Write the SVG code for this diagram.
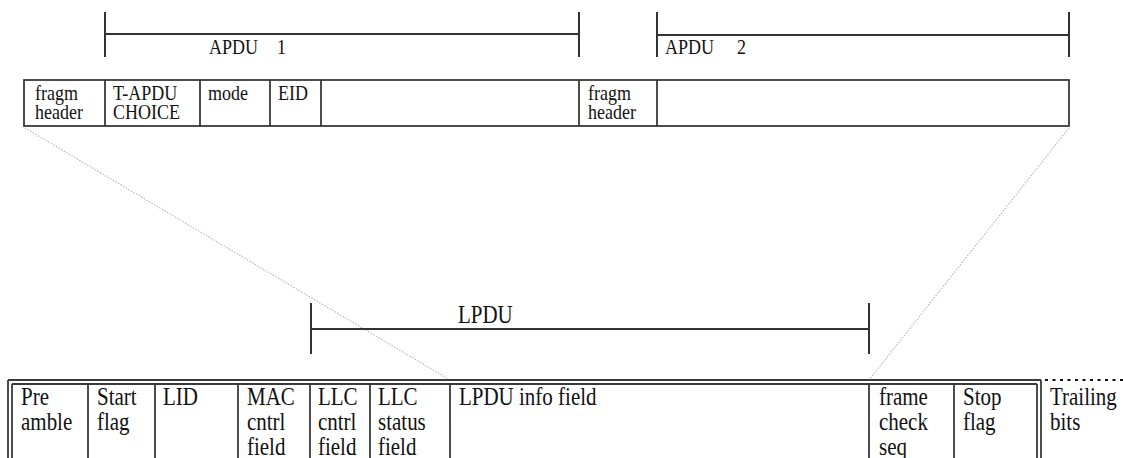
<svg xmlns="http://www.w3.org/2000/svg" width="1123" height="458" viewBox="0 0 1123 458">
<style>
text{font-family:"Liberation Serif","Times New Roman",serif;fill:#111}
.t{font-size:18px}
.b{font-size:21px}
.ln{stroke:#3a3a3a;stroke-width:1.8;fill:none}
.br{stroke:#333;stroke-width:2;fill:none}
.proj{stroke:#bbb;stroke-width:1.2;stroke-dasharray:1.5 1.5;fill:none}
</style>
<rect width="1123" height="458" fill="#fff"/>
<g id="connectors">
<path class="proj" d="M25 128 L450 380"/>
<path class="proj" d="M1069 128 L869 380"/>
</g>
<g id="apdu1-bracket">
<path class="br" d="M105 12 V57 M105 34 H579 M579 12 V57"/>
<text class="t" x="209" y="54" transform="matrix(1 0 0 1.15 0 -8.1)">APDU</text>
<text class="t" x="277" y="54" transform="matrix(1 0 0 1.15 0 -8.1)">1</text>
</g>
<g id="apdu2-bracket">
<path class="br" d="M657 12 V57 M657 35 H1069 M1069 12 V57"/>
<text class="t" x="665" y="54" transform="matrix(1 0 0 1.15 0 -8.1)">APDU</text>
<text class="t" x="737" y="54" transform="matrix(1 0 0 1.15 0 -8.1)">2</text>
</g>
<g id="apdu-row">
<rect class="ln" x="24" y="80" width="1045" height="46"/>
<path class="ln" d="M105 80 V126 M200 80 V126 M270 80 V126 M321 80 V126 M579 80 V126 M657 80 V126"/>
<text class="t" x="35" y="100" transform="matrix(1 0 0 1.15 0 -15)">fragm</text>
<text class="t" x="35" y="119" transform="matrix(1 0 0 1.15 0 -17.85)">header</text>
<text class="t" x="113" y="100" transform="matrix(1 0 0 1.15 0 -15)">T-APDU</text>
<text class="t" x="113" y="119" transform="matrix(1 0 0 1.15 0 -17.85)">CHOICE</text>
<text class="t" x="208" y="100" transform="matrix(1 0 0 1.15 0 -15)">mode</text>
<text class="t" x="278" y="100" transform="matrix(1 0 0 1.15 0 -15)">EID</text>
<text class="t" x="588" y="100" transform="matrix(1 0 0 1.15 0 -15)">fragm</text>
<text class="t" x="588" y="119" transform="matrix(1 0 0 1.15 0 -17.85)">header</text>
</g>
<g id="lpdu-bracket">
<path class="br" d="M311 303 V354 M311 329 H869 M869 303 V354"/>
<text class="b" x="458" y="323" transform="matrix(1 0 0 1.15 0 -48.45)">LPDU</text>
</g>
<g id="frame-row">
<path class="ln" d="M8 380 H1041 M12 384 H1037 M8 380 V470 M12 384 V470 M1037 384 V470 M1041 380 V470"/>
<path class="ln" d="M88 384 V470 M155 384 V470 M238 384 V470 M310 384 V470 M370 384 V470 M450 384 V470 M869 384 V470 M954 384 V470"/>
<path d="M1045 380 H1123" stroke="#111" stroke-width="2.2" stroke-dasharray="3 4.5" fill="none"/>
<g class="b">
<text class="b" x="21" y="405" transform="matrix(1 0 0 1.15 0 -60.75)">Pre</text>
<text class="b" x="21" y="430" transform="matrix(1 0 0 1.15 0 -64.5)">amble</text>
<text class="b" x="97" y="405" transform="matrix(1 0 0 1.15 0 -60.75)">Start</text>
<text class="b" x="97" y="430" transform="matrix(1 0 0 1.15 0 -64.5)">flag</text>
<text class="b" x="163" y="405" transform="matrix(1 0 0 1.15 0 -60.75)">LID</text>
<text class="b" x="247" y="405" transform="matrix(1 0 0 1.15 0 -60.75)">MAC</text>
<text class="b" x="247" y="430" transform="matrix(1 0 0 1.15 0 -64.5)">cntrl</text>
<text class="b" x="247" y="455" transform="matrix(1 0 0 1.15 0 -68.25)">field</text>
<text class="b" x="318" y="405" transform="matrix(1 0 0 1.15 0 -60.75)">LLC</text>
<text class="b" x="318" y="430" transform="matrix(1 0 0 1.15 0 -64.5)">cntrl</text>
<text class="b" x="318" y="455" transform="matrix(1 0 0 1.15 0 -68.25)">field</text>
<text class="b" x="378" y="405" transform="matrix(1 0 0 1.15 0 -60.75)">LLC</text>
<text class="b" x="378" y="430" transform="matrix(1 0 0 1.15 0 -64.5)">status</text>
<text class="b" x="378" y="455" transform="matrix(1 0 0 1.15 0 -68.25)">field</text>
<text class="b" x="459" y="405" transform="matrix(1 0 0 1.15 0 -60.75)">LPDU info field</text>
<text class="b" x="879" y="405" transform="matrix(1 0 0 1.15 0 -60.75)">frame</text>
<text class="b" x="879" y="430" transform="matrix(1 0 0 1.15 0 -64.5)">check</text>
<text class="b" x="879" y="455" transform="matrix(1 0 0 1.15 0 -68.25)">seq</text>
<text class="b" x="963" y="405" transform="matrix(1 0 0 1.15 0 -60.75)">Stop</text>
<text class="b" x="963" y="430" transform="matrix(1 0 0 1.15 0 -64.5)">flag</text>
<text class="b" x="1050" y="405" transform="matrix(1 0 0 1.15 0 -60.75)">Trailing</text>
<text class="b" x="1050" y="430" transform="matrix(1 0 0 1.15 0 -64.5)">bits</text>
</g>
</g>
</svg>
